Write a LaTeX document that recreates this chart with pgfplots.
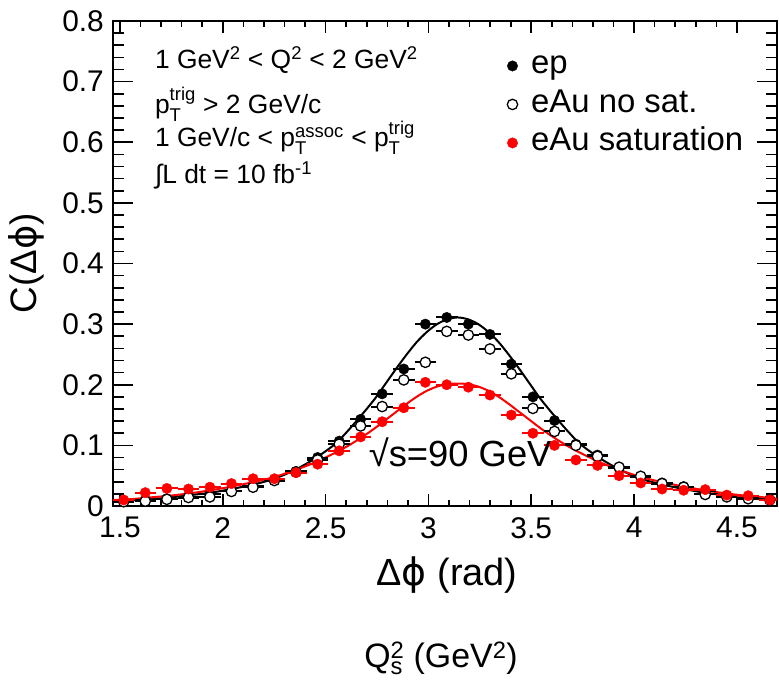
\documentclass[border=0pt]{standalone}
\usepackage{fontspec}
\setmainfont{Liberation Sans}
\newfontfamily\dejavu{DejaVu Sans}
\newcommand{\phisym}{{\dejavu ϕ}}
\usepackage{amsmath}
\usepackage{pgfplots}
\pgfplotsset{compat=1.18}
\usepackage{pgfplotstable}

\pgfplotstableread{
x ep nosat sat
1.518 0.008 0.007 0.010
1.623 0.010 0.008 0.022
1.728 0.012 0.011 0.029
1.833 0.015 0.014 0.028
1.937 0.019 0.015 0.031
2.042 0.024 0.024 0.037
2.147 0.033 0.031 0.045
2.251 0.043 0.042 0.045
2.356 0.057 0.056 0.055
2.461 0.080 0.076 0.069
2.566 0.107 0.102 0.091
2.670 0.143 0.132 0.114
2.775 0.185 0.164 0.139
2.880 0.226 0.208 0.162
2.985 0.300 0.237 0.204
3.089 0.311 0.288 0.200
3.194 0.300 0.282 0.196
3.299 0.283 0.259 0.183
3.403 0.234 0.218 0.150
3.508 0.180 0.161 0.120
3.613 0.141 0.123 0.100
3.717 0.102 0.100 0.076
3.822 0.084 0.082 0.067
3.927 0.063 0.064 0.050
4.032 0.048 0.049 0.038
4.136 0.038 0.037 0.028
4.241 0.032 0.031 0.026
4.346 0.024 0.019 0.027
4.451 0.017 0.015 0.018
4.555 0.013 0.012 0.017
4.660 0.010 0.010 0.010
}\pts

\pgfplotstableread{
x b r
1.466 0.007 0.010
1.542 0.009 0.011
1.642 0.011 0.014
1.742 0.014 0.017
1.842 0.018 0.021
1.942 0.022 0.026
2.042 0.028 0.032
2.142 0.035 0.039
2.242 0.044 0.047
2.342 0.058 0.058
2.442 0.077 0.071
2.542 0.101 0.087
2.592 0.118 0.096
2.642 0.137 0.106
2.692 0.157 0.117
2.742 0.178 0.129
2.792 0.202 0.142
2.842 0.226 0.155
2.892 0.249 0.168
2.942 0.270 0.180
2.992 0.287 0.190
3.042 0.300 0.197
3.092 0.308 0.201
3.142 0.311 0.202
3.192 0.308 0.201
3.242 0.300 0.197
3.292 0.287 0.190
3.342 0.270 0.180
3.392 0.249 0.168
3.442 0.226 0.155
3.492 0.202 0.142
3.542 0.178 0.129
3.592 0.157 0.117
3.642 0.137 0.106
3.692 0.118 0.096
3.742 0.101 0.087
3.842 0.077 0.071
3.942 0.058 0.058
4.042 0.044 0.047
4.142 0.035 0.039
4.242 0.028 0.032
4.342 0.022 0.026
4.442 0.018 0.021
4.542 0.014 0.017
4.642 0.011 0.014
4.695 0.010 0.012
}\curves

\begin{document}
\begin{tikzpicture}
\begin{axis}[
  scale only axis, width=664bp, height=485bp,
  xmin=1.466, xmax=4.695, ymin=0, ymax=0.8,
  xtick={1.5,2,2.5,3,3.5,4,4.5},
  ytick={0,0.1,0.2,0.3,0.4,0.5,0.6,0.7,0.8},
  minor x tick num=4, minor y tick num=4,
  tick align=inside,
  axis line style={line width=2bp},
  every tick/.style={line width=1.6bp, black},
  xtick style={/pgfplots/major tick length=12bp, /pgfplots/minor tick length=6bp},
  ytick style={/pgfplots/major tick length=20bp, /pgfplots/minor tick length=11bp},
  /pgf/number format/assume math mode=true,
  ticklabel style={font=\fontsize{30}{32}\selectfont},
  xticklabel style={inner sep=0pt, anchor=north, yshift=-11bp},
  yticklabel style={inner sep=0pt, anchor=east, xshift=-9bp},
  xlabel={Δ\phisym\ (rad)},
  ylabel={C(Δ\phisym)},
  every axis x label/.style={at={(axis description cs:0.503,-0.163)}, anchor=base, font=\fontsize{38}{42}\selectfont},
  every axis y label/.style={at={(axis description cs:-0.1145,0.501)}, anchor=base, rotate=90, font=\fontsize{37}{42}\selectfont},
  legend style={at={(axis description cs:0.589,0.950)}, anchor=north west, draw=none, fill=none,
    font=\fontsize{33}{38}\selectfont, row sep=1.5bp,
    nodes={text height=24bp, text depth=8bp, inner sep=2.5bp},
    /tikz/every odd column/.append style={column sep=11bp}},
  legend cell align=left,
  error bars/error bar style={line width=2bp},
]
\addplot[forget plot, black, line width=2bp, smooth] table[x=x, y=b] {\curves};
\addplot[forget plot, red, line width=2bp, smooth] table[x=x, y=r] {\curves};
\addplot[only marks, mark=*, mark size=5.2bp, black, mark options={fill=black},
  error bars/.cd, x dir=both, x fixed=0.0524, error mark=none]
  table[x=x, y=ep] {\pts};
\addlegendentry{ep}
\addplot[only marks, mark=*, mark size=5.2bp, black, mark options={fill=white, line width=1.3bp},
  error bars/.cd, x dir=both, x fixed=0.0524, error mark=none]
  table[x=x, y=nosat] {\pts};
\addlegendentry{eAu no sat.}
\addplot[only marks, mark=*, mark size=5.2bp, red, mark options={fill=red},
  error bars/.cd, x dir=both, x fixed=0.0524, error mark=none]
  table[x=x, y=sat] {\pts};
\addlegendentry{eAu saturation}
\node[anchor=base west, font=\fontsize{26.5}{30}\selectfont] at (rel axis cs:0.058,0.9025)
  {1 GeV\textsuperscript{2} < Q\textsuperscript{2} < 2 GeV\textsuperscript{2}};
\node[anchor=base west, font=\fontsize{26.5}{30}\selectfont] at (rel axis cs:0.058,0.8097)
  {p$^{\text{trig}}_{\text{T}}$ > 2 GeV/c};
\node[anchor=base west, font=\fontsize{26.5}{30}\selectfont] at (rel axis cs:0.058,0.7408)
  {1 GeV/c < p$^{\text{assoc}}_{\text{T}}$ < p$^{\text{trig}}_{\text{T}}$};
\node[anchor=base west, font=\fontsize{26.5}{30}\selectfont] at (rel axis cs:0.058,0.6654)
  {∫L dt = 10 fb\textsuperscript{-1}};
\node[anchor=base west, font=\fontsize{36.5}{40}\selectfont] at (rel axis cs:0.3800,0.081)
  {√s=90 GeV};
\end{axis}
\node[anchor=base, font=\fontsize{34}{40}\selectfont] at ([shift={(-4bp,-161bp)}]current axis.south) {Q$_{\text{s}}^{\text{2}}$ (GeV\textsuperscript{2})};
\pgfresetboundingbox
\path[use as bounding box] ([shift={(-113bp,-174bp)}]current axis.south west) rectangle ([shift={(2bp,21bp)}]current axis.north east);
\end{tikzpicture}
\end{document}
